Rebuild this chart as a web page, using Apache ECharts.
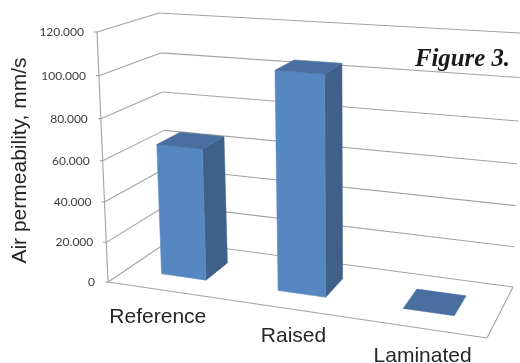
<!DOCTYPE html>
<html>
<head>
<meta charset="utf-8">
<style>html,body{margin:0;padding:0;background:#fff}#chart{width:520px;height:363px}</style>
<script src="https://cdn.jsdelivr.net/npm/echarts@6/dist/echarts.min.js"></script>
</head>
<body>
<div id="chart"></div>
<script>
// Chart content
const categories = ['Reference', 'Raised', 'Laminated'];
const permeability = [65, 105, 0];
const yTicks = [0, 20, 40, 60, 80, 100, 120];
const yTickLabels = ['0', '20.000', '40.000', '60.000', '80.000', '100.000', '120.000'];

// Box corners on screen: [front|back][Left|Right][bottom|top]
const box = {
  fL0: [108, 282], fR0: [487, 338], bL0: [169, 241], bR0: [513, 287],
  fL1: [97, 32],   fR1: [493, 62],  bL1: [159, 13],  bR1: [521, 33]
};
// Foreshortening along width, depth and height
const persp = { u: 0.9, d: 1.1, h: 0.9425 };
const barBandShare = 0.39;
const barDepth = [0.3, 0.7];
const categoryLabelShift = [[-8, 26.5], [6, 28], [4.5, 28]];

const warp = (t, w) => t * w / (1 + t * (w - 1));
const mix = (a, b, t) => [a[0] + (b[0] - a[0]) * t, a[1] + (b[1] - a[1]) * t];

// Box position (width, depth, height in 0..1) to screen position
function project(u, d, h) {
  const fu = warp(u, persp.u), gd = warp(d, persp.d), kh = warp(h, persp.h);
  const front0 = mix(box.fL0, box.fR0, fu), back0 = mix(box.bL0, box.bR0, fu);
  const front1 = mix(box.fL1, box.fR1, fu), back1 = mix(box.bL1, box.bR1, fu);
  return mix(mix(front0, back0, gd), mix(front1, back1, gd), kh);
}

// Grid pixel position to box width / height fractions
const toBoxU = (px, cs) => (px - cs.x) / cs.width;
const toBoxH = (py, cs) => (cs.y + cs.height - py) / cs.height;

const axisLine = { stroke: '#a3a3a3', lineWidth: 1.1 };
const line = (a, b) => ({ type: 'line', shape: { x1: a[0], y1: a[1], x2: b[0], y2: b[1] }, style: axisLine, silent: true });
const poly = (points, fill) => ({ type: 'polygon', shape: { points }, style: { fill, stroke: fill, lineWidth: 0.5 }, silent: true });

// Gridlines on both walls with their tick marks and labels
function renderTick(params, api) {
  const cs = params.coordSys;
  const h = toBoxH(api.coord([0, api.value(0)])[1], cs);
  const front = project(0, 0, h);
  const back = project(0, 1, h);
  const right = project(1, 1, h);
  return {
    type: 'group',
    children: [
      line(front, back),
      line(back, right),
      line([front[0] - 3, front[1]], front),
      {
        type: 'text',
        style: {
          text: yTickLabels[params.dataIndex],
          x: front[0] - 13, y: front[1],
          textAlign: 'right', textVerticalAlign: 'middle',
          font: '12px Lato', fill: '#404040'
        },
        silent: true
      }
    ]
  };
}

// Value axis edge and the floor's front and right edges
function renderFrame() {
  return {
    type: 'group',
    children: [
      line(project(0, 0, 0), project(0, 0, 1)),
      line(project(0, 0, 0), project(1, 0, 0)),
      line(project(1, 0, 0), project(1, 1, 0))
    ]
  };
}

// One 3D column: side and front faces, then the lid
function renderBar(params, api) {
  const cs = params.coordSys;
  const idx = api.value(0);
  const base = api.coord([idx, 0]);
  const top = api.coord([idx, api.value(1)]);
  const half = api.size([1, 0])[0] * barBandShare / 2;
  const u0 = toBoxU(base[0] - half, cs), u1 = toBoxU(base[0] + half, cs);
  const h = toBoxH(top[1], cs);
  const [d0, d1] = barDepth;
  const children = [];
  if (h > 0) {
    children.push(poly([project(u1, d0, 0), project(u1, d1, 0), project(u1, d1, h), project(u1, d0, h)], '#3f6189'));
    children.push(poly([project(u0, d0, 0), project(u1, d0, 0), project(u1, d0, h), project(u0, d0, h)], '#5787c1'));
  }
  children.push(poly([project(u0, d0, h), project(u1, d0, h), project(u1, d1, h), project(u0, d1, h)], '#486f9f'));
  return { type: 'group', children };
}

// Category names below the floor's front edge
function renderCategory(params, api) {
  const cs = params.coordSys;
  const u = toBoxU(api.coord([api.value(0), 0])[0], cs);
  const p = project(u, 0, 0);
  const shift = categoryLabelShift[params.dataIndex];
  return {
    type: 'text',
    style: {
      text: categories[params.dataIndex],
      x: p[0] + shift[0], y: p[1] + shift[1],
      textAlign: 'center', textVerticalAlign: 'middle',
      font: '21px "Liberation Sans"', fill: '#262626'
    },
    silent: true
  };
}

const chart = echarts.init(document.getElementById('chart'));
chart.setOption({
  animation: false,
  backgroundColor: '#ffffff',
  title: {
    text: 'Figure 3.',
    right: 5, top: 42,
    textStyle: { fontFamily: 'Liberation Serif', fontWeight: 'bold', fontStyle: 'italic', fontSize: 24.8, color: '#1a1a1a' }
  },
  grid: { left: 0, right: 0, top: 0, bottom: 0 },
  xAxis: { type: 'category', data: categories, show: false },
  yAxis: { type: 'value', min: 0, max: 120, interval: 20, show: false },
  graphic: [{
    type: 'text',
    x: 20.5, y: 160.5, rotation: Math.PI / 2,
    style: {
      text: 'Air permeability, mm/s',
      textAlign: 'center', textVerticalAlign: 'middle',
      font: '21px "Liberation Sans"', fill: '#262626'
    }
  }],
  series: [
    { type: 'custom', z: 1, data: yTicks.map(v => [v]), encode: { y: 0 }, renderItem: renderTick, silent: true, clip: false },
    { type: 'custom', z: 1, data: [[0]], encode: { y: 0 }, renderItem: renderFrame, silent: true, clip: false },
    { type: 'custom', z: 2, data: permeability.map((v, i) => [i, v]), encode: { x: 0, y: 1 }, renderItem: renderBar, silent: true, clip: false },
    { type: 'custom', z: 3, data: categories.map((c, i) => [i, 0]), encode: { x: 0, y: 1 }, renderItem: renderCategory, silent: true, clip: false }
  ]
});
</script>
</body>
</html>
